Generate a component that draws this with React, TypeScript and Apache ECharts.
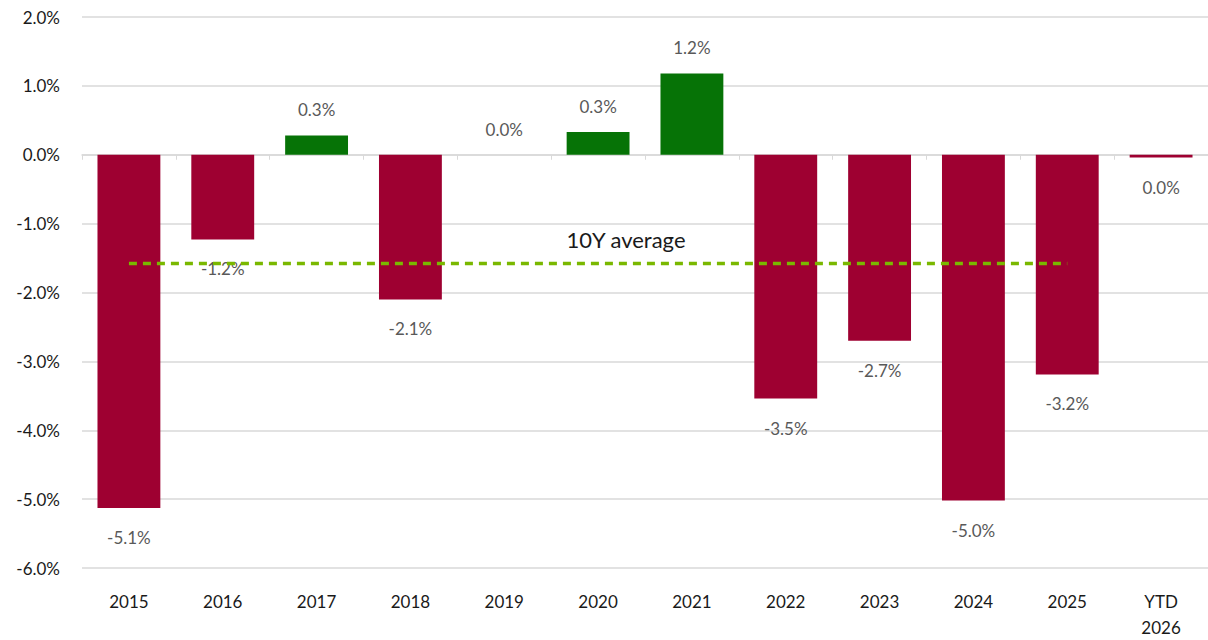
import React, { useEffect, useRef } from "react";
import * as echarts from "echarts";

const categories = ["2015", "2016", "2017", "2018", "2019", "2020", "2021", "2022", "2023", "2024", "2025", "YTD\n2026"];
const values = [-5.13, -1.23, 0.28, -2.1, 0.0, 0.33, 1.18, -3.54, -2.7, -5.02, -3.19, -0.04];
const averageValue = -1.58;
const averageLabel = "10Y average";
const averageSpan = 11; // 2015..2025
const yTicks = { min: -6, max: 2, interval: 1 };

const RED = "#9E0031";
const GREEN = "#067306";
const FONT = "Lato, 'Open Sans', sans-serif";

function fmt(v: number) {
  const r = Math.abs(v) < 0.05 ? 0 : v;
  return r.toFixed(1) + "%";
}

export default function App() {
  const ref = useRef<HTMLDivElement>(null);
  useEffect(() => {
    if (!ref.current) return;
    const chart = echarts.init(ref.current, undefined, { renderer: "svg" });
    const barData = values.map((v) => ({
      value: v,
      itemStyle: { color: v >= 0 ? GREEN : RED },
      label: {
        show: true,
        position: v >= 0 ? "top" : "bottom",
        distance: v >= 0 ? 17 : 21,
        formatter: () => fmt(v),
        color: "#595959",
        fontSize: 17,
        fontFamily: FONT,
      },
    }));
    const avgData = categories.map((_, i) => (i < averageSpan ? averageValue : null));
    chart.setOption({
      animation: false,
      grid: { left: 82, right: 0, top: 17, bottom: 72, containLabel: false },
      xAxis: {
        type: "category",
        data: categories,
        boundaryGap: true,
        axisLine: { onZero: true, lineStyle: { color: "#d9d9d9", width: 1.5 } },
        axisTick: { show: true, alignWithLabel: false, length: 5, lineStyle: { color: "#d9d9d9" } },
        axisLabel: {
          interval: 0,
          color: "#1a1a1a",
          fontSize: 17,
          fontFamily: FONT,
          lineHeight: 26,
          margin: 20,
        },
        position: "bottom",
      },
      yAxis: {
        type: "value",
        min: yTicks.min,
        max: yTicks.max,
        interval: yTicks.interval,
        axisLine: { show: false },
        axisTick: { show: false },
        splitLine: { lineStyle: { color: "#d9d9d9", width: 1.5 } },
        axisLabel: {
          color: "#1a1a1a",
          fontSize: 17,
          fontFamily: FONT,
          margin: 22,
          formatter: (v: number) => v.toFixed(1) + "%",
        },
      },
      series: [
        {
          type: "bar",
          data: barData,
          barWidth: "67%",
        },
        {
          type: "line",
          data: avgData,
          symbol: "none",
          lineStyle: { color: "#7AB800", width: 3.5, type: [8, 6] },
          z: 5,
        },
      ],
      graphic: [
        {
          type: "text",
          x: 626,
          y: 239,
          style: {
            text: averageLabel,
            fontSize: 22,
            fontFamily: FONT,
            fill: "#1a1a1a",
            textAlign: "center",
            textVerticalAlign: "middle",
          },
        },
      ],
    });
    return () => chart.dispose();
  }, []);
  return <div ref={ref} style={{ width: 1208, height: 640, position: "absolute", left: 0, top: 0 }} />;
}
